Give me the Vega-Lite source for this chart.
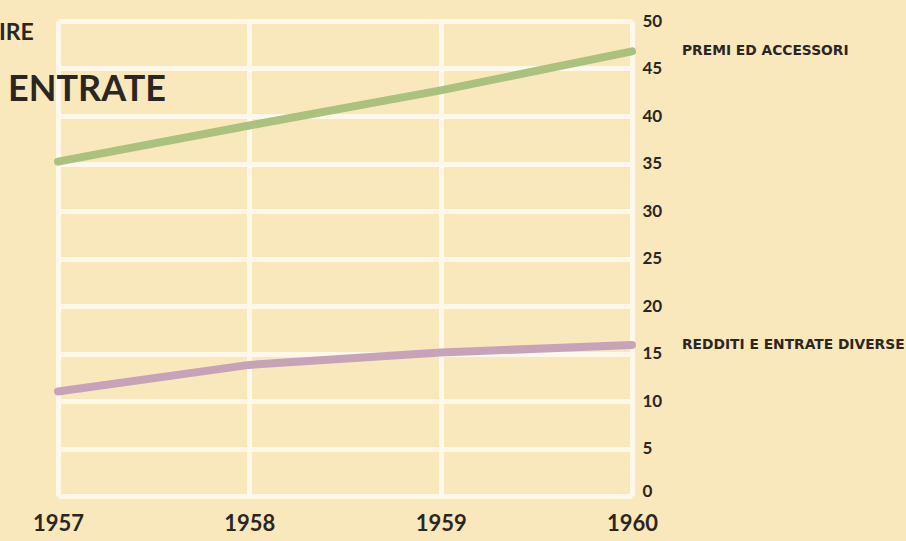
{
  "$schema": "https://vega.github.io/schema/vega-lite/v6.json",
  "width": 574,
  "height": 475,
  "autosize": "none",
  "padding": {"left": 58, "top": 21, "right": 274, "bottom": 45},
  "background": "#f9e8bc",
  "title": {
    "text": "IRE",
    "subtitle": "\u200b\u2009\u2009ENTRATE",
    "anchor": "start",
    "frame": "group",
    "font": "Lato",
    "fontSize": 23,
    "fontWeight": "bold",
    "color": "#2b2622",
    "subtitleFont": "Lato",
    "subtitleFontSize": 36,
    "subtitleFontWeight": "bold",
    "subtitleColor": "#2b2622",
    "subtitlePadding": 28,
    "dx": -59,
    "dy": 100
  },
  "config": {
    "view": {"stroke": null},
    "font": "Lato"
  },
  "data": {
    "values": [
      {"anno": 1957, "serie": "PREMI ED ACCESSORI", "valore": 35.2},
      {"anno": 1958, "serie": "PREMI ED ACCESSORI", "valore": 39.0},
      {"anno": 1959, "serie": "PREMI ED ACCESSORI", "valore": 42.7},
      {"anno": 1960, "serie": "PREMI ED ACCESSORI", "valore": 46.8},
      {"anno": 1957, "serie": "REDDITI E ENTRATE DIVERSE", "valore": 11.0},
      {"anno": 1958, "serie": "REDDITI E ENTRATE DIVERSE", "valore": 13.8},
      {"anno": 1959, "serie": "REDDITI E ENTRATE DIVERSE", "valore": 15.1},
      {"anno": 1960, "serie": "REDDITI E ENTRATE DIVERSE", "valore": 15.9}
    ]
  },
  "encoding": {
    "x": {
      "field": "anno",
      "type": "quantitative",
      "scale": {"domain": [1957, 1960], "nice": false, "zero": false},
      "axis": {
        "values": [1957, 1958, 1959, 1960],
        "format": "d",
        "title": null,
        "domain": false,
        "ticks": false,
        "grid": true,
        "gridColor": "#fdf8ea",
        "gridWidth": 5,
        "labelFont": "Lato",
        "labelFontSize": 22,
        "labelFontWeight": "bold",
        "labelColor": "#2b2622",
        "labelPadding": 17,
        "labelFlush": false
      }
    },
    "y": {
      "field": "valore",
      "type": "quantitative",
      "scale": {"domain": [0, 50], "nice": false},
      "axis": {
        "orient": "right",
        "values": [0, 5, 10, 15, 20, 25, 30, 35, 40, 45, 50],
        "title": null,
        "domain": false,
        "ticks": false,
        "grid": true,
        "gridColor": "#fdf8ea",
        "gridWidth": 5,
        "labelFont": "Lato",
        "labelFontSize": 17,
        "labelFontWeight": "bold",
        "labelColor": "#2b2622",
        "labelPadding": 10,
        "labelAlign": "left",
        "labelOffset": {"condition": {"test": "datum.value == 0", "value": -5}, "value": 0}
      }
    }
  },
  "layer": [
    {
      "mark": {"type": "line", "strokeWidth": 8, "strokeCap": "round"},
      "encoding": {
        "color": {
          "field": "serie",
          "type": "nominal",
          "scale": {"domain": ["PREMI ED ACCESSORI", "REDDITI E ENTRATE DIVERSE"], "range": ["#abc27f", "#c6a3b8"]},
          "legend": null
        }
      }
    },
    {
      "transform": [{"filter": "datum.anno == 1960"}],
      "mark": {"type": "text", "align": "left", "baseline": "middle", "dx": 50, "font": "DejaVu Sans", "fontSize": 13.8, "fontWeight": "bold", "color": "#2b2622"},
      "encoding": {
        "text": {"field": "serie"}
      }
    }
  ]
}
